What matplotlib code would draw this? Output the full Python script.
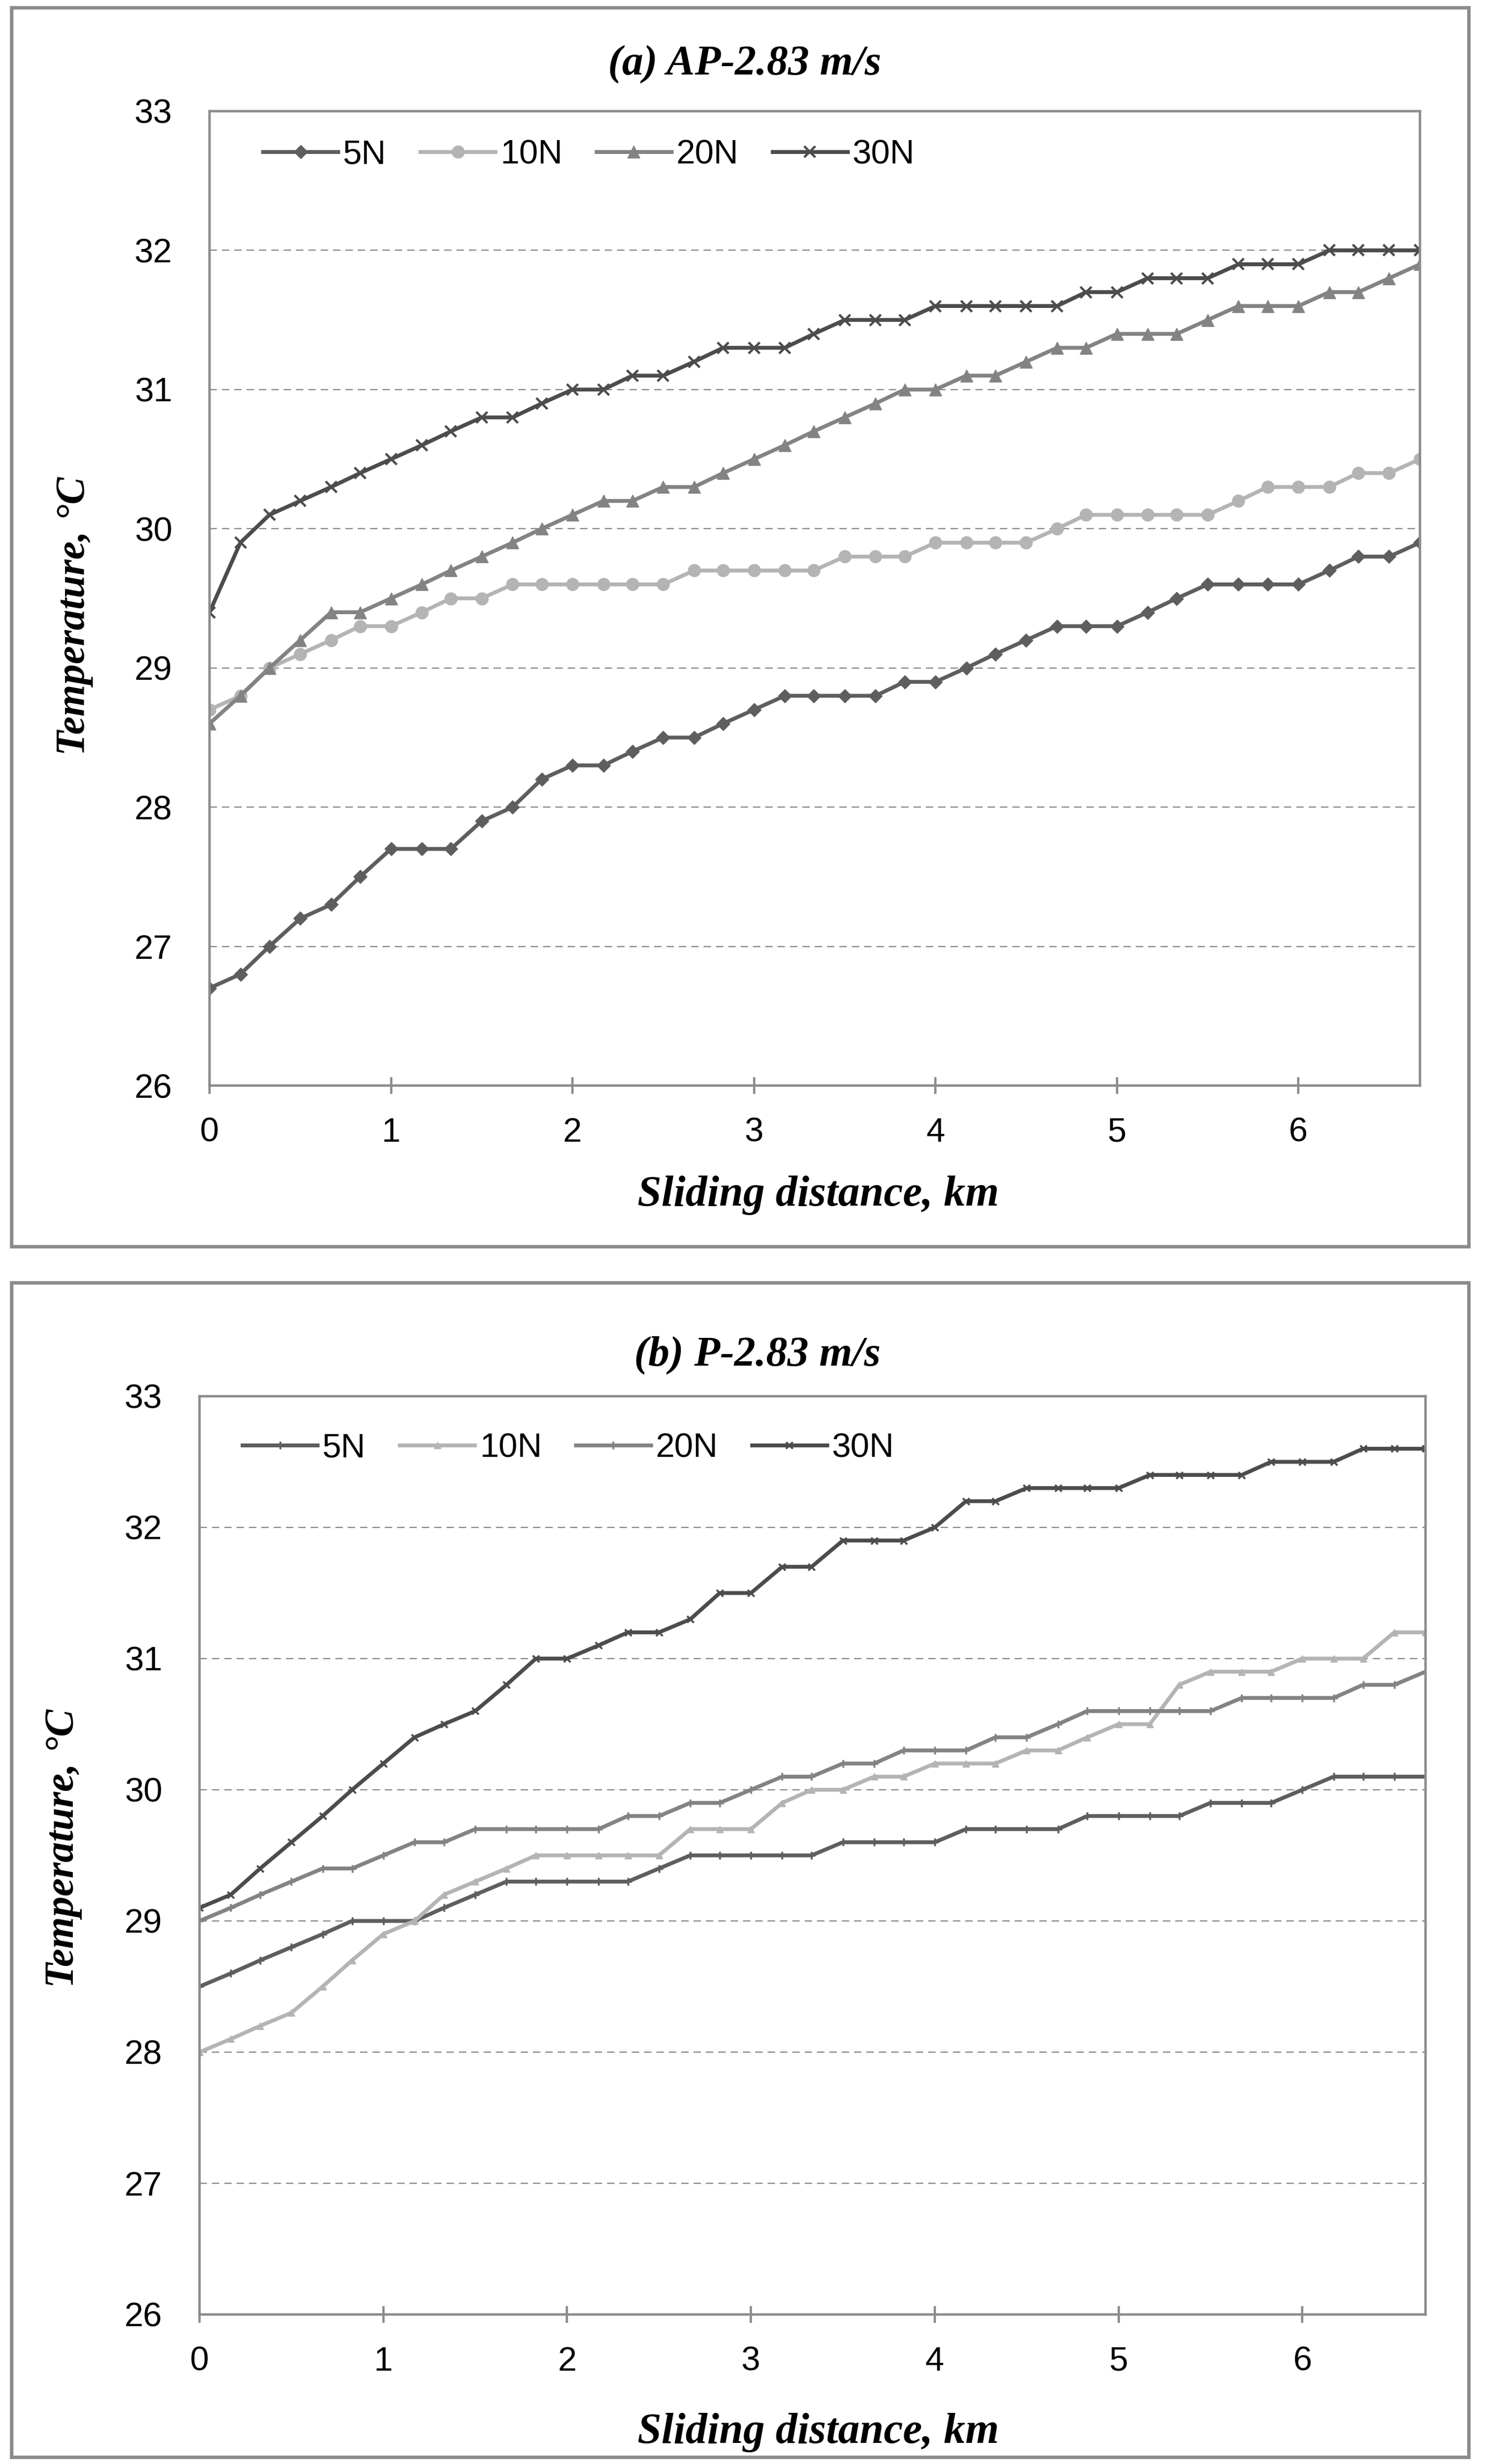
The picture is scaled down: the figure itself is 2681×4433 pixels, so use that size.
import numpy as np
import matplotlib
matplotlib.use('Agg')
import matplotlib.pyplot as plt
from matplotlib.patches import Rectangle

# sliding distance (km), same for both panels
distance = [0.0, 0.17, 0.33, 0.5, 0.67, 0.83, 1.0, 1.17, 1.33, 1.5, 1.67, 1.83, 2.0, 2.17,
            2.33, 2.5, 2.67, 2.83, 3.0, 3.17, 3.33, 3.5, 3.67, 3.83, 4.0, 4.17, 4.33, 4.5,
            4.67, 4.83, 5.0, 5.17, 5.33, 5.5, 5.67, 5.83, 6.0, 6.17, 6.33, 6.5, 6.67]

loads = ['5N', '10N', '20N', '30N']

# (a) AP-2.83 m/s
ap_5N = [26.7, 26.8, 27.0, 27.2, 27.3, 27.5, 27.7, 27.7, 27.7, 27.9, 28.0, 28.2, 28.3, 28.3,
         28.4, 28.5, 28.5, 28.6, 28.7, 28.8, 28.8, 28.8, 28.8, 28.9, 28.9, 29.0, 29.1, 29.2,
         29.3, 29.3, 29.3, 29.4, 29.5, 29.6, 29.6, 29.6, 29.6, 29.7, 29.8, 29.8, 29.9]
ap_10N = [28.7, 28.8, 29.0, 29.1, 29.2, 29.3, 29.3, 29.4, 29.5, 29.5, 29.6, 29.6, 29.6, 29.6,
          29.6, 29.6, 29.7, 29.7, 29.7, 29.7, 29.7, 29.8, 29.8, 29.8, 29.9, 29.9, 29.9, 29.9,
          30.0, 30.1, 30.1, 30.1, 30.1, 30.1, 30.2, 30.3, 30.3, 30.3, 30.4, 30.4, 30.5]
ap_20N = [28.6, 28.8, 29.0, 29.2, 29.4, 29.4, 29.5, 29.6, 29.7, 29.8, 29.9, 30.0, 30.1, 30.2,
          30.2, 30.3, 30.3, 30.4, 30.5, 30.6, 30.7, 30.8, 30.9, 31.0, 31.0, 31.1, 31.1, 31.2,
          31.3, 31.3, 31.4, 31.4, 31.4, 31.5, 31.6, 31.6, 31.6, 31.7, 31.7, 31.8, 31.9]
ap_30N = [29.4, 29.9, 30.1, 30.2, 30.3, 30.4, 30.5, 30.6, 30.7, 30.8, 30.8, 30.9, 31.0, 31.0,
          31.1, 31.1, 31.2, 31.3, 31.3, 31.3, 31.4, 31.5, 31.5, 31.5, 31.6, 31.6, 31.6, 31.6,
          31.6, 31.7, 31.7, 31.8, 31.8, 31.8, 31.9, 31.9, 31.9, 32.0, 32.0, 32.0, 32.0]

# (b) P-2.83 m/s
p_5N = [28.5, 28.6, 28.7, 28.8, 28.9, 29.0, 29.0, 29.0, 29.1, 29.2, 29.3, 29.3, 29.3, 29.3,
        29.3, 29.4, 29.5, 29.5, 29.5, 29.5, 29.5, 29.6, 29.6, 29.6, 29.6, 29.7, 29.7, 29.7,
        29.7, 29.8, 29.8, 29.8, 29.8, 29.9, 29.9, 29.9, 30.0, 30.1, 30.1, 30.1, 30.1]
p_10N = [28.0, 28.1, 28.2, 28.3, 28.5, 28.7, 28.9, 29.0, 29.2, 29.3, 29.4, 29.5, 29.5, 29.5,
         29.5, 29.5, 29.7, 29.7, 29.7, 29.9, 30.0, 30.0, 30.1, 30.1, 30.2, 30.2, 30.2, 30.3,
         30.3, 30.4, 30.5, 30.5, 30.8, 30.9, 30.9, 30.9, 31.0, 31.0, 31.0, 31.2, 31.2]
p_20N = [29.0, 29.1, 29.2, 29.3, 29.4, 29.4, 29.5, 29.6, 29.6, 29.7, 29.7, 29.7, 29.7, 29.7,
         29.8, 29.8, 29.9, 29.9, 30.0, 30.1, 30.1, 30.2, 30.2, 30.3, 30.3, 30.3, 30.4, 30.4,
         30.5, 30.6, 30.6, 30.6, 30.6, 30.6, 30.7, 30.7, 30.7, 30.7, 30.8, 30.8, 30.9]
p_30N = [29.1, 29.2, 29.4, 29.6, 29.8, 30.0, 30.2, 30.4, 30.5, 30.6, 30.8, 31.0, 31.0, 31.1,
         31.2, 31.2, 31.3, 31.5, 31.5, 31.7, 31.7, 31.9, 31.9, 31.9, 32.0, 32.2, 32.2, 32.3,
         32.3, 32.3, 32.3, 32.4, 32.4, 32.4, 32.4, 32.5, 32.5, 32.5, 32.6, 32.6, 32.6]

colors = ['#5e5e5e', '#b4b4b4', '#838383', '#4c4c4c']
serif = ['Liberation Serif', 'DejaVu Serif']
sans = ['Liberation Sans', 'DejaVu Sans']

fig = plt.figure(figsize=(26.81, 44.33), dpi=100)

# grey frames around each chart
fig.patches.append(Rectangle((21 / 2681, 1 - 2243 / 4433), 2622 / 2681, 2229 / 4433,
                             transform=fig.transFigure, fill=False, edgecolor='#8c8c8c', linewidth=4.5))
fig.patches.append(Rectangle((21 / 2681, 1 - 4421 / 4433), 2622 / 2681, 2113 / 4433,
                             transform=fig.transFigure, fill=False, edgecolor='#8c8c8c', linewidth=4.5))


def draw_panel(ax, series, markers, title, title_xy, xlabel_xy, ylabel_xy, legend_anchor):
    for ys, lab, col, (mk, ms, mew) in zip(series, loads, colors, markers):
        ax.plot(distance, ys, color=col, linewidth=5, marker=mk, markersize=ms,
                markeredgewidth=mew, markeredgecolor=col, markerfacecolor=col, label=lab)
    ax.set_xlim(0, 6.67)
    ax.set_ylim(26, 33)
    ax.set_xticks(range(0, 7))
    ax.set_yticks(range(26, 34))
    for y in range(27, 33):
        ax.axhline(y, color='#8c8c8c', linewidth=1.6, linestyle=(0, (6, 4)), zorder=0)
    for s in ax.spines.values():
        s.set_color('#8c8c8c')
        s.set_linewidth(3.2)
    ax.tick_params(axis='x', direction='inout', length=22, width=3, color='#8c8c8c',
                   pad=30, labelsize=44)
    ax.tick_params(axis='y', length=0, pad=48, labelsize=44)
    for lbl in ax.get_xticklabels() + ax.get_yticklabels():
        lbl.set_family(sans)
    ax.legend(loc='upper left', bbox_to_anchor=legend_anchor, ncol=4, frameon=False,
              prop={'family': sans, 'size': 44}, handlelength=2.2, handletextpad=0.15,
              columnspacing=1.0, borderaxespad=0)
    fig.text(title_xy[0], title_xy[1], title, ha='center', va='center', family=serif,
             style='italic', weight='bold', fontsize=55)
    fig.text(xlabel_xy[0], xlabel_xy[1], 'Sliding distance, km', ha='center', va='center',
             family=serif, style='italic', weight='bold', fontsize=56)
    fig.text(ylabel_xy[0], ylabel_xy[1], 'Temperature, °C', ha='center', va='center',
             rotation=90, family=serif, style='italic', weight='bold', fontsize=53)


ax1 = fig.add_axes([377 / 2681, 1 - 1953 / 4433, 2178 / 2681, 1753 / 4433])
draw_panel(ax1, [ap_5N, ap_10N, ap_20N, ap_30N],
           [('D', 12, 1), ('o', 16, 1), ('^', 16, 1), ('x', 15, 3)],
           '(a) AP-2.83 m/s', (1340 / 2681, 1 - 115 / 4433),
           (1472 / 2681, 1 - 2151 / 4433), (134 / 2681, 1 - 1108 / 4433),
           (0.033, 0.985))

ax2 = fig.add_axes([359 / 2681, 1 - 4164 / 4433, 2206 / 2681, 1652 / 4433])
draw_panel(ax2, [p_5N, p_10N, p_20N, p_30N],
           [('+', 10, 2.5), ('^', 8, 1), ('+', 10, 2.5), ('x', 8, 2.5)],
           '(b) P-2.83 m/s', (1363 / 2681, 1 - 2438 / 4433),
           (1472 / 2681, 1 - 4377 / 4433), (114 / 2681, 1 - 3325 / 4433),
           (0.024, 0.975))

fig.savefig('out.png', dpi=100)
